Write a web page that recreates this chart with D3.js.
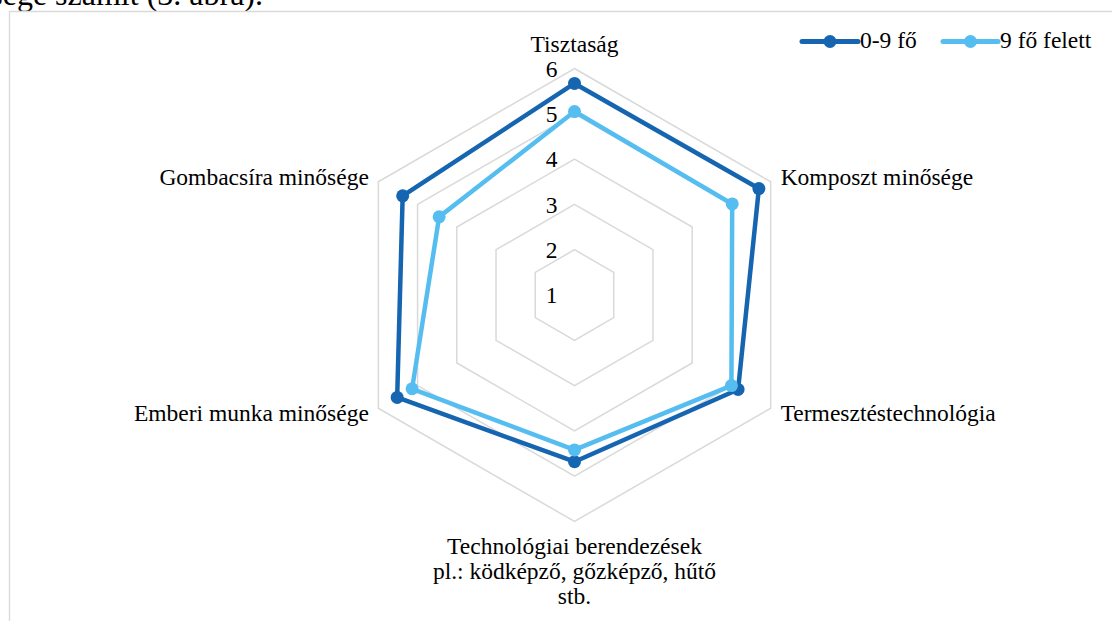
<!DOCTYPE html>
<html><head><meta charset="utf-8">
<script src="https://cdn.jsdelivr.net/npm/d3@7"></script>
<style>html,body{margin:0;padding:0;background:#fff;overflow:hidden}svg{display:block}</style>
</head><body>
<svg id="c" width="1112" height="621"></svg>
<script>
const categories = ["Tisztaság","Komposzt minősége","Termesztéstechnológia","Technológiai berendezések|pl.: ködképző, gőzképző, hűtő|stb.","Emberi munka minősége","Gombacsíra minősége"];
const seriesNames = ["0-9 fő","9 fő felett"];
const seriesSmall = [5.67,5.70,5.17,4.68,5.52,5.38];
const seriesLarge = [5.05,5.02,5.00,4.42,5.14,4.45];
const ticks = [1,2,3,4,5,6];
const colors = ["#1565b0","#56bdf0"];

const svg = d3.select("#c");
const font = "'Liberation Serif','Times New Roman',serif";
const fs = 23.5;

// page text and frame
svg.append("text").attr("x",263).attr("y",4.5).attr("text-anchor","end")
  .style("font-family",font).style("font-size","32px").attr("fill","#000").text("sége számít (3. ábra).");
svg.append("path").attr("d","M9.5,621V11.5H1112").attr("fill","none").attr("stroke","#d9d9d9").attr("stroke-width",1.3);

const cx = 574.5, cy = 295, R = 226.5;
const r = d3.scaleLinear().domain([1,6]).range([0,R]);
const n = categories.length;
const ang = i => i*2*Math.PI/n;
const g = svg.append("g").attr("transform",`translate(${cx},${cy})`);

const radial = d3.lineRadial().angle((d,i)=>ang(i)).radius(d=>r(d)).curve(d3.curveLinearClosed);

// grid
ticks.filter(t=>t>1).forEach(t=>{
  g.append("path").attr("d",radial(categories.map(()=>t))).attr("fill","none")
   .attr("stroke","#d9d9d9").attr("stroke-width",1.5);
});
// tick labels
ticks.forEach(t=>{
  g.append("text").attr("x",-23).attr("y",-r(t)).attr("dy","0.35em").attr("text-anchor","middle")
   .style("font-family",font).style("font-size",fs+"px").text(t);
});

// series
[seriesSmall, seriesLarge].forEach((vals,si)=>{
  g.append("path").attr("d",radial(vals)).attr("fill","none").attr("stroke",colors[si])
   .attr("stroke-width",4.5).attr("stroke-linejoin","round");
  vals.forEach((v,i)=>{
    const a = ang(i);
    g.append("circle").attr("cx",r(v)*Math.sin(a)).attr("cy",-r(v)*Math.cos(a)).attr("r",6.5).attr("fill",colors[si]);
  });
});

// category labels
categories.forEach((c,i)=>{
  const a = ang(i);
  const vx = R*Math.sin(a), vy = -R*Math.cos(a);
  const lines = c.split("|");
  let x, y, anchor;
  if (i===0){ x=vx; y=vy-17; anchor="middle"; }
  else if (i===3){ x=vx; y=vy+32; anchor="middle"; }
  else if (i===1||i===2){ x=vx+10; y=vy+(i===1?3:13); anchor="start"; }
  else { x=vx-9.5; y=vy+(i===5?3:13); anchor="end"; }
  const t = g.append("text").attr("text-anchor",anchor).style("font-family",font).style("font-size",fs+"px");
  lines.forEach((l,k)=>t.append("tspan").attr("x",x).attr("y",y+k*25).text(l));
});

// legend
const leg = [{x1:802,x2:858,tx:860},{x1:943,x2:998,tx:1000}];
seriesNames.forEach((s,i)=>{
  const L = leg[i];
  svg.append("line").attr("x1",L.x1).attr("x2",L.x2).attr("y1",41.5).attr("y2",41.5)
    .attr("stroke",colors[i]).attr("stroke-width",5).attr("stroke-linecap","round");
  svg.append("circle").attr("cx",(L.x1+L.x2)/2).attr("cy",41.5).attr("r",6.5).attr("fill",colors[i]);
  svg.append("text").attr("x",L.tx).attr("y",47.5).style("font-family",font).style("font-size",fs+"px").text(s);
});
</script>
</body></html>
